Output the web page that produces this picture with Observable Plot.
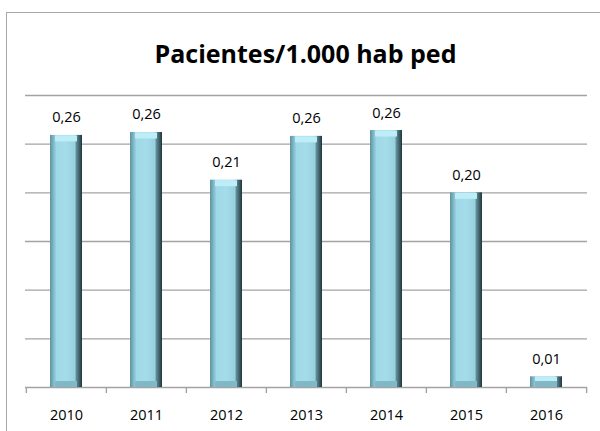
<!DOCTYPE html>
<html><head><meta charset="utf-8">
<script src="https://cdn.jsdelivr.net/npm/d3@7"></script>
<script src="https://cdn.jsdelivr.net/npm/@observablehq/plot@0.6"></script>
<style>
html,body{margin:0;padding:0;width:600px;height:431px;overflow:hidden;background:#fff;}
#frame{position:absolute;left:6px;top:12px;width:640px;height:480px;border:1.5px solid #a8a8a8;box-sizing:border-box;}
#title{position:absolute;left:0;top:36px;width:611px;line-height:34px;text-align:center;font-family:"Open Sans";font-weight:700;font-size:25px;color:#000;white-space:nowrap;}
#chart{position:absolute;left:0;top:80px;}
</style></head><body>
<div id="frame"></div>
<div id="title">Pacientes/1.000 hab ped</div>
<div id="chart"></div>
<script>
const years = ["2010", "2011", "2012", "2013", "2014", "2015", "2016"];
const values = [0.259, 0.262, 0.213, 0.258, 0.264, 0.200, 0.011];
const valueLabels = ["0,26", "0,26", "0,21", "0,26", "0,26", "0,20", "0,01"];
const yTicks = [0.05, 0.10, 0.15, 0.20, 0.25, 0.30];

const data = years.map((year, i) => ({year, value: values[i], label: valueLabels[i]}));

const W = 600, H = 351, mL = 25, mR = 13, mT = 15, mB = 44;
const step = (W - mL - mR) / years.length;

const defs = () => {
  const d = d3.create("svg:defs");
  const g = d.append("linearGradient").attr("id", "barGrad").attr("x1", 0).attr("x2", 1).attr("y1", 0).attr("y2", 0);
  [[0, "#5f929e"], [0.17, "#93cddc"], [0.2, "#9fd8e7"], [0.5, "#a4dcea"], [0.78, "#98d0de"], [0.82, "#5f8f9b"], [1, "#22363b"]]
    .forEach(([o, c]) => g.append("stop").attr("offset", o).attr("stop-color", c));
  return d.node();
};

const chart = Plot.plot({
  width: W, height: H,
  marginLeft: mL, marginRight: mR, marginTop: mT, marginBottom: mB,
  style: {fontFamily: "Open Sans", fontSize: "14.5px", color: "#000", background: "transparent"},
  x: {domain: years, paddingInner: 0.6, paddingOuter: 0.3, label: null},
  y: {domain: [0, 0.30], label: null, axis: null},
  marks: [
    defs,
    Plot.ruleY(yTicks, {stroke: "#a3a3a3", strokeWidth: 1.4}),
    Plot.ruleY([0], {stroke: "#a3a3a3", strokeWidth: 1.6}),
    Plot.ruleX(years, {x: d => d, y1: 0, y2: 0, insetBottom: -6, dx: -step / 2, stroke: "#a3a3a3", strokeWidth: 1.4}),
    Plot.ruleX(years.slice(-1), {x: d => d, y1: 0, y2: 0, insetBottom: -6, dx: step / 2, stroke: "#a3a3a3", strokeWidth: 1.4}),
    Plot.barY(data, {x: "year", y: "value", fill: "url(#barGrad)"}),
    Plot.tickY(data, {x: "year", y: "value", dy: 3, strokeWidth: 6, stroke: "#bdeef8", insetLeft: 5, insetRight: 5}),
    Plot.tickY(data, {x: "year", y: 0, dy: -3.5, strokeWidth: 6, stroke: "#82b7c5", insetLeft: 5, insetRight: 5}),
    Plot.text(data, {x: "year", y: "value", text: "label", lineAnchor: "bottom", dy: -13, fill: "#000", fontSize: 14.5}),
    Plot.axisX({tickSize: 0, tickPadding: 22, fontSize: 14.5, fill: "#000"})
  ]
});
document.getElementById("chart").appendChild(chart);
</script>
</body></html>
